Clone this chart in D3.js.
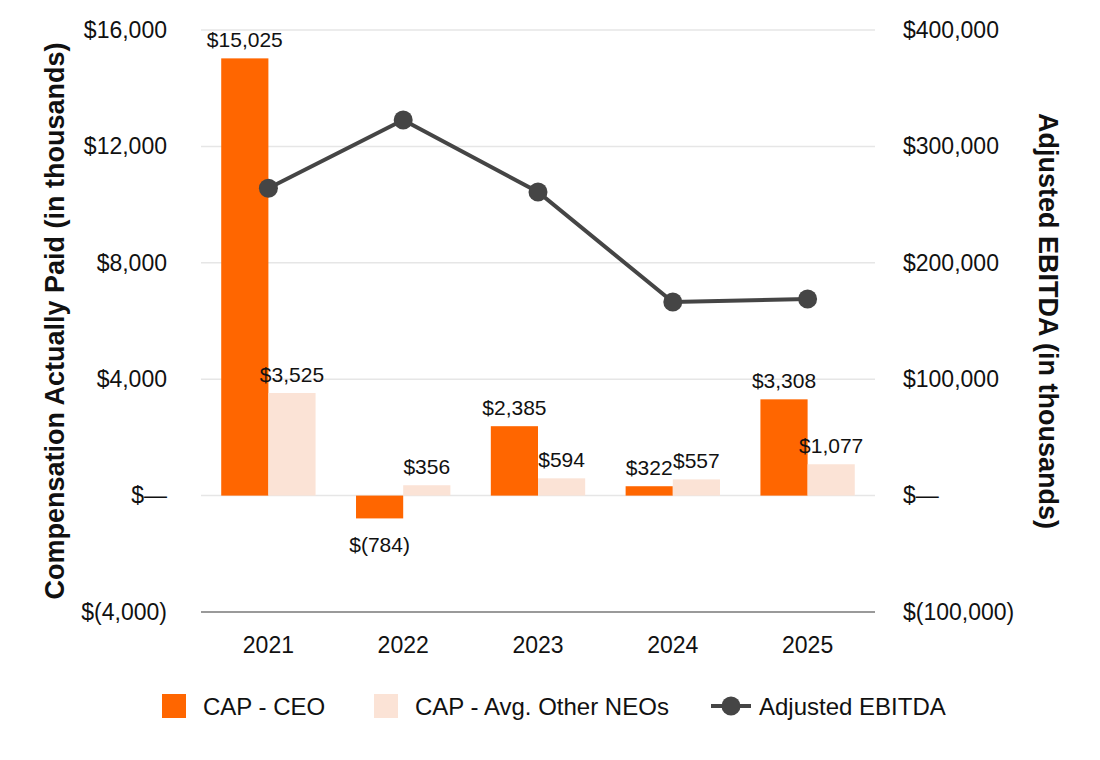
<!DOCTYPE html>
<html>
<head>
<meta charset="utf-8">
<script src="https://cdn.jsdelivr.net/npm/d3@7"></script>
<style>
  body { margin: 0; background: #fff; }
  text { font-family: "Liberation Sans", Arial, sans-serif; fill: #111; }
</style>
</head>
<body>
<div id="graf"></div>
<script>
// Datos
const years = ['2021', '2022', '2023', '2024', '2025']
const capCeo = [15025, -784, 2385, 322, 3308]
const capNeo = [3525, 356, 594, 557, 1077]
const ebitda = [264000, 322700, 260800, 166300, 168900]
const leftTicks = [-4000, 0, 4000, 8000, 12000, 16000]
const rightTicks = [-100000, 0, 100000, 200000, 300000, 400000]

const anchoTotal = 1100
const altoTotal = 760
const margins = { top: 30, right: 225, bottom: 148, left: 201 }
const ancho = anchoTotal - margins.left - margins.right
const alto = altoTotal - margins.top - margins.bottom

const colorCeo = '#ff6600'
const colorNeo = '#fbe3d6'
const colorLine = '#454545'

const svg = d3.select('#graf').append('svg')
    .attr('width', anchoTotal)
    .attr('height', altoTotal)

const g = svg.append('g')
    .attr('transform', `translate(${margins.left}, ${margins.top})`)

// Escaladores
const x = d3.scaleBand().domain(years).range([0, ancho]).paddingInner(0.3).paddingOuter(0.15)
const x1 = d3.scaleBand().domain(['ceo', 'neo']).range([0, x.bandwidth()])
const y = d3.scaleLinear().domain([-4000, 16000]).range([alto, 0])
const y2 = d3.scaleLinear().domain([-100000, 400000]).range([alto, 0])

const money = (v) => v === 0 ? '$—' : v < 0 ? `$(${d3.format(',')(-v)})` : `$${d3.format(',')(v)}`

// Grid
g.append('g').selectAll('line')
    .data(leftTicks.filter(d => d > -4000))
    .join('line')
    .attr('x1', 0).attr('x2', ancho)
    .attr('y1', d => y(d)).attr('y2', d => y(d))
    .attr('stroke', '#e6e6e6').attr('stroke-width', 1.5)

g.append('line')
    .attr('x1', 0).attr('x2', ancho)
    .attr('y1', y(-4000)).attr('y2', y(-4000))
    .attr('stroke', '#9a9a9a').attr('stroke-width', 2)

// Ejes
const yAxis = g.append('g')
    .call(d3.axisLeft(y).tickValues(leftTicks).tickFormat(money).tickSize(0).tickPadding(34))
yAxis.select('.domain').remove()
yAxis.selectAll('text').attr('font-size', 23).attr('fill', '#111')

const yAxis2 = g.append('g')
    .attr('transform', `translate(${ancho}, 0)`)
    .call(d3.axisRight(y2).tickValues(rightTicks).tickFormat(money).tickSize(0).tickPadding(28))
yAxis2.select('.domain').remove()
yAxis2.selectAll('text').attr('font-size', 23).attr('fill', '#111')

const xAxis = g.append('g')
    .attr('transform', `translate(0, ${alto})`)
    .call(d3.axisBottom(x).tickSize(0).tickPadding(25))
xAxis.select('.domain').remove()
xAxis.selectAll('text').attr('font-size', 23).attr('fill', '#111')

// Barras
const barData = years.flatMap((yr, i) => [
    { year: yr, key: 'ceo', value: capCeo[i] },
    { year: yr, key: 'neo', value: capNeo[i] }
])

g.append('g').selectAll('rect')
    .data(barData)
    .join('rect')
    .attr('x', d => x(d.year) + x1(d.key))
    .attr('width', x1.bandwidth())
    .attr('y', d => y(Math.max(0, d.value)))
    .attr('height', d => Math.abs(y(d.value) - y(0)))
    .attr('fill', d => d.key === 'ceo' ? colorCeo : colorNeo)

g.append('g').selectAll('text')
    .data(barData)
    .join('text')
    .attr('x', d => x(d.year) + x1(d.key) + x1.bandwidth() / 2)
    .attr('y', d => d.value >= 0 ? y(d.value) - 11 : y(d.value) + 34)
    .attr('text-anchor', 'middle')
    .attr('font-size', 21)
    .text(d => money(d.value))

// Linea
const pts = years.map((yr, i) => ({ year: yr, value: ebitda[i] }))
const line = d3.line()
    .x(d => x(d.year) + x.bandwidth() / 2)
    .y(d => y2(d.value))

g.append('path')
    .datum(pts)
    .attr('d', line)
    .attr('fill', 'none')
    .attr('stroke', colorLine)
    .attr('stroke-width', 4)

g.append('g').selectAll('circle')
    .data(pts)
    .join('circle')
    .attr('cx', d => x(d.year) + x.bandwidth() / 2)
    .attr('cy', d => y2(d.value))
    .attr('r', 9.5)
    .attr('fill', colorLine)

// Titulos de ejes
svg.append('text')
    .attr('transform', `translate(64, ${margins.top + alto / 2}) rotate(-90)`)
    .attr('text-anchor', 'middle')
    .attr('font-size', 27)
    .attr('font-weight', 'bold')
    .text('Compensation Actually Paid (in thousands)')

svg.append('text')
    .attr('transform', `translate(1039, ${margins.top + alto / 2}) rotate(90)`)
    .attr('text-anchor', 'middle')
    .attr('font-size', 27)
    .attr('font-weight', 'bold')
    .text('Adjusted EBITDA (in thousands)')

// Leyenda
const legend = svg.append('g').attr('transform', 'translate(0, 706)')
const legendItems = [
    { label: 'CAP - CEO', type: 'rect', color: colorCeo, x: 162 },
    { label: 'CAP - Avg. Other NEOs', type: 'rect', color: colorNeo, x: 374 },
    { label: 'Adjusted EBITDA', type: 'line', color: colorLine, x: 711 }
]
legendItems.forEach(it => {
    const gi = legend.append('g').attr('transform', `translate(${it.x}, 0)`)
    if (it.type === 'rect') {
        gi.append('rect').attr('x', 0).attr('y', -12).attr('width', 24).attr('height', 24).attr('fill', it.color)
        gi.append('text').attr('x', 41).attr('y', 8.5).attr('font-size', 24).text(it.label)
    } else {
        gi.append('line').attr('x1', 0).attr('x2', 40).attr('y1', 0).attr('y2', 0)
            .attr('stroke', it.color).attr('stroke-width', 4)
        gi.append('circle').attr('cx', 20).attr('cy', 0).attr('r', 9.5).attr('fill', it.color)
        gi.append('text').attr('x', 48).attr('y', 8.5).attr('font-size', 24).text(it.label)
    }
})
</script>
</body>
</html>
